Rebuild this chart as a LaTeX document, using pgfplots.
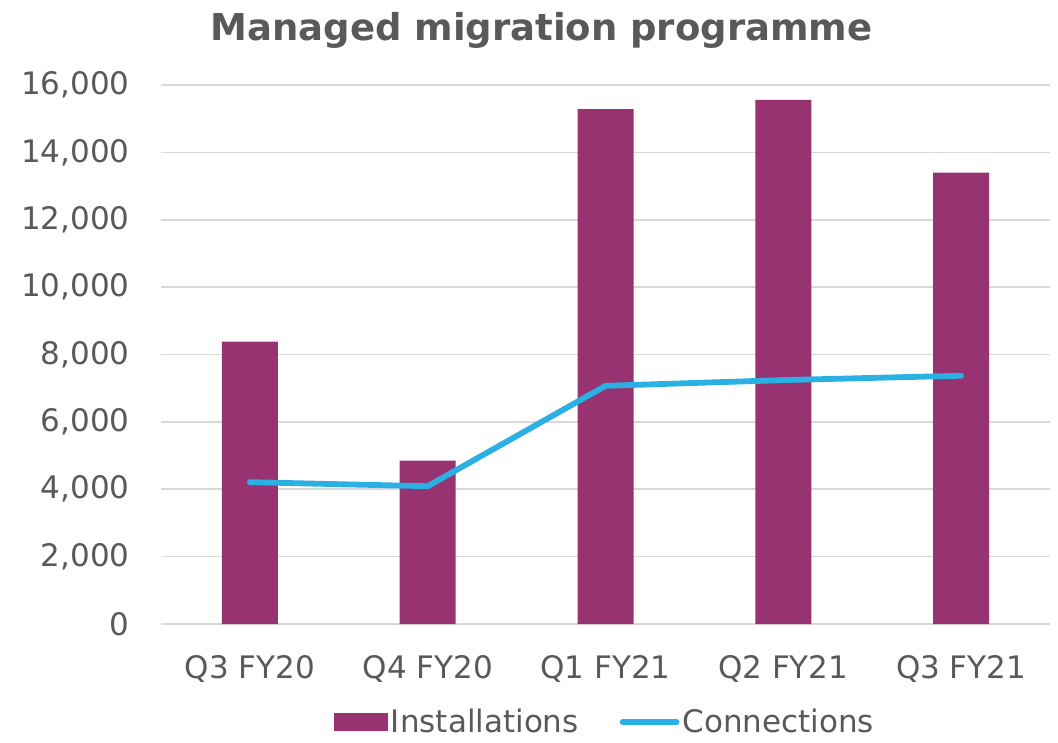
\documentclass[border=0pt]{standalone}
\usepackage{fontspec}
\setmainfont{DejaVu Sans}
\usepackage{pgfplots}
\pgfplotsset{compat=1.18}
\definecolor{barplum}{HTML}{963370}
\definecolor{lineblue}{HTML}{2AB0E2}
\definecolor{txtgrey}{HTML}{595959}
\definecolor{gridgrey}{HTML}{D9D9D9}

\begin{document}
\begin{tikzpicture}
  \begin{axis}[
    scale only axis,
    width=444.5pt,
    height=269.5pt,
    xmin=-0.5, xmax=4.5,
    ymin=0, ymax=16000,
    xtick={0,1,2,3,4},
    xticklabels={Q3 FY20,Q4 FY20,Q1 FY21,Q2 FY21,Q3 FY21},
    ytick={0,2000,...,16000},
    scaled ticks=false,
    /pgf/number format/.cd, 1000 sep={,}, assume math mode=true,
    /pgfplots/.cd,
    axis line style={draw=none},
    major tick length=0pt,
    tick style={draw=none},
    ymajorgrids,
    grid style={gridgrey, line width=0.8pt},
    tick label style={font=\fontsize{15.5}{18}\selectfont, text=txtgrey},
    yticklabel style={anchor=east, inner sep=0pt, xshift=-15.5pt},
    xticklabel style={anchor=north, inner sep=0pt, yshift=-15.5pt},
    legend columns=2,
    legend style={
      draw=none, fill=none,
      at={(0.5,0)}, anchor=center, yshift=-49pt,
      font=\fontsize{15.5}{18}\selectfont, text=txtgrey,
      nodes={inner sep=1.5pt},
      /tikz/every even column/.append style={column sep=19pt}
    },
    clip=false
  ]
    % Installations
    \addplot[
      ybar, bar width=0.315, fill=barplum, draw=none,
      legend image code/.code={\fill[barplum] (0pt,-4.5pt) rectangle (27pt,4.5pt);}
    ] coordinates {
      (0,8380) (1,4850) (2,15280) (3,15560) (4,13400)
    };
    \addlegendentry{Installations}

    % Connections
    \addplot[
      sharp plot, lineblue, line width=2.9pt, line cap=round, line join=round,
      legend image code/.code={\draw[lineblue, line width=2.9pt, line cap=round] (0pt,0pt) -- (27pt,0pt);}
    ] coordinates {
      (0,4210) (1,4090) (2,7070) (3,7240) (4,7370)
    };
    \addlegendentry{Connections}

    \node[font=\bfseries\fontsize{18.5}{22}\selectfont, text=txtgrey]
      at (axis cs:1.64,16000) [yshift=27.5pt] {Managed migration programme};
  \end{axis}
  \path[use as bounding box] (-80.5pt,-58pt) rectangle (448.5pt,312pt);
\end{tikzpicture}
\end{document}
